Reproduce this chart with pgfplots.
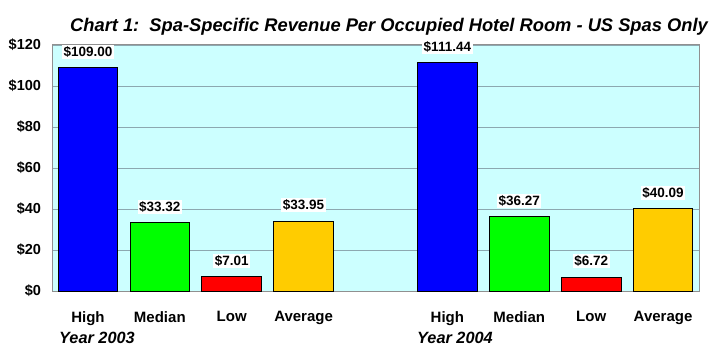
\documentclass[border=0pt]{standalone}
\usepackage{pgfplots}
\pgfplotsset{compat=1.18}
\usepackage{fontspec}
\setmainfont{Liberation Sans}
\definecolor{plotbg}{HTML}{CCFFFF}
\definecolor{gridc}{HTML}{8CA8B0}
\definecolor{axc}{HTML}{909090}
\definecolor{cblue}{HTML}{0000FF}
\definecolor{cgreen}{HTML}{00FF00}
\definecolor{cred}{HTML}{FF0000}
\definecolor{cgold}{HTML}{FFCC00}
\begin{document}
\begin{tikzpicture}[x=1bp,y=1bp]
\useasboundingbox (0,0) rectangle (722,358);
\begin{axis}[
  at={(52bp,67bp)}, anchor=south west,
  scale only axis, width=647bp, height=246bp,
  xmin=-0.5, xmax=8.5, ymin=0, ymax=120,
  axis background/.style={fill=plotbg},
  axis line style={axc, line width=1bp},
  ytick={0,20,...,120},
  ymajorgrids, grid style={gridc, line width=0.8bp},
  major tick length=0pt,
  yticklabel={\$\pgfmathprintnumber{\tick}},
  /pgf/number format/assume math mode=true,
  yticklabel style={font=\fontsize{14.5bp}{16bp}\selectfont\bfseries, xshift=-7.5bp},
  xtick={0,1,2,3,5,6,7,8},
  xticklabels={High,Median,Low,Average,High,Median,Low,Average},
  xticklabel style={font=\fontsize{15bp}{17bp}\selectfont\bfseries, yshift=-17bp},
  ybar, bar width=0.83, bar shift=0pt,
  every axis plot/.append style={draw=black, line width=1bp},
  nodes near coords={\$\pgfmathprintnumber[fixed,fixed zerofill,precision=2]{\pgfplotspointmeta}},
  every node near coord/.append style={font=\fontsize{13.5bp}{15bp}\selectfont\bfseries, fill=white, inner sep=1.5bp, text=black, yshift=8.5bp},
  clip=false,
]
\addplot[fill=cblue] coordinates {(0,109.00) (5,111.44)};
\addplot[fill=cgreen] coordinates {(1,33.32) (6,36.27)};
\addplot[fill=cred] coordinates {(2,7.01) (7,6.72)};
\addplot[fill=cgold] coordinates {(3,33.95) (8,40.09)};
\end{axis}
\node[anchor=base, font=\fontsize{18.3bp}{20bp}\selectfont\bfseries\itshape] at (389,327) {Chart 1:\ \ Spa-Specific Revenue Per Occupied Hotel Room - US Spas Only};
\node[anchor=base west, inner sep=0pt, font=\fontsize{16.3bp}{18bp}\selectfont\bfseries\itshape] at (59,15) {Year 2003};
\node[anchor=base west, inner sep=0pt, font=\fontsize{16.3bp}{18bp}\selectfont\bfseries\itshape] at (417,15) {Year 2004};
\end{tikzpicture}
\end{document}
